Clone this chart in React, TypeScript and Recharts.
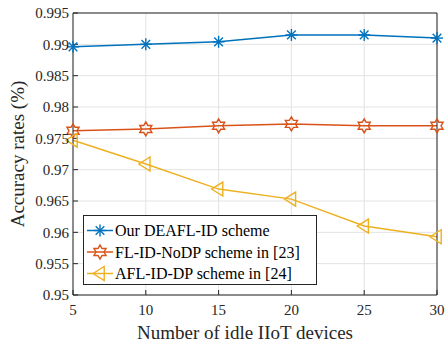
import React from 'react';
import { LineChart, Line, XAxis, YAxis, CartesianGrid } from 'recharts';

// ---- data ----
const devices = [5, 10, 15, 20, 25, 30];
const deaflId = [0.9896, 0.99, 0.9904, 0.9915, 0.9915, 0.991];
const flIdNoDp = [0.9762, 0.9765, 0.977, 0.9773, 0.977, 0.977];
const aflIdDp = [0.9747, 0.9709, 0.9669, 0.9653, 0.961, 0.9593];
const xTicks = [5, 10, 15, 20, 25, 30];
const yTicks = [0.95, 0.955, 0.96, 0.965, 0.97, 0.975, 0.98, 0.985, 0.99, 0.995];

const seriesNames = ['Our DEAFL-ID scheme', 'FL-ID-NoDP scheme in [23]', 'AFL-ID-DP scheme in [24]'];
const xTitle = 'Number of idle IIoT devices';
const yTitle = 'Accuracy rates (%)';

const BLUE = '#0072BD';
const ORANGE = '#D95319';
const YELLOW = '#EDB120';
const INK = '#262626';
const FONT = '"Liberation Serif", "Times New Roman", serif';

const data = devices.map((d, i) => ({
  x: d,
  deafl: deaflId[i],
  nodp: flIdNoDp[i],
  afl: aflIdDp[i],
}));

// ---- markers ----
const Asterisk = ({ cx, cy, color }: { cx: number; cy: number; color: string }) => {
  const r = 6;
  const d = r * 0.72;
  return (
    <g stroke={color} strokeWidth={1.4}>
      <line x1={cx - r} y1={cy} x2={cx + r} y2={cy} />
      <line x1={cx} y1={cy - r} x2={cx} y2={cy + r} />
      <line x1={cx - d} y1={cy - d} x2={cx + d} y2={cy + d} />
      <line x1={cx - d} y1={cy + d} x2={cx + d} y2={cy - d} />
    </g>
  );
};

const Hexagram = ({ cx, cy, color }: { cx: number; cy: number; color: string }) => {
  const ro = 7;
  const ri = ro / Math.sqrt(3);
  const pts: string[] = [];
  for (let k = 0; k < 12; k++) {
    const a = -Math.PI / 2 + (k * Math.PI) / 6;
    const r = k % 2 === 0 ? ro : ri;
    pts.push(`${cx + r * Math.cos(a)},${cy + r * Math.sin(a)}`);
  }
  return <polygon points={pts.join(' ')} fill="none" stroke={color} strokeWidth={1.4} />;
};

const TriLeft = ({ cx, cy, color }: { cx: number; cy: number; color: string }) => {
  const r = 7;
  const pts = `${cx - r},${cy} ${cx + r * 0.6},${cy - r} ${cx + r * 0.6},${cy + r}`;
  return <polygon points={pts} fill="none" stroke={color} strokeWidth={1.4} />;
};

const markerFor = (Shape: any, color: string) => (props: any) => {
  const { cx, cy, index } = props;
  return <Shape key={`m-${index}`} cx={cx} cy={cy} color={color} />;
};

const fmt = (v: number) => String(Number(v.toFixed(3)));

const tickStyle = { fontFamily: FONT, fontSize: 15, fill: INK };

// axis titles, placed relative to the axis viewBox
const XTitle = ({ viewBox }: any) => (
  <text
    x={viewBox.x + viewBox.width / 2 - 10}
    y={viewBox.y + 44}
    textAnchor="middle"
    fontFamily={FONT}
    fontSize={19}
    fill={INK}
  >
    {xTitle}
  </text>
);

const YTitle = ({ viewBox }: any) => {
  const x = viewBox.x + 24;
  const y = viewBox.y + viewBox.height / 2;
  return (
    <text x={x} y={y} transform={`rotate(-90, ${x}, ${y})`} textAnchor="middle" fontFamily={FONT} fontSize={19} fill={INK}>
      {yTitle}
    </text>
  );
};

export default function App() {
  const legendRows = [
    { name: seriesNames[0], color: BLUE, Shape: Asterisk },
    { name: seriesNames[1], color: ORANGE, Shape: Hexagram },
    { name: seriesNames[2], color: YELLOW, Shape: TriLeft },
  ];

  return (
    <div style={{ position: 'absolute', left: 0, top: 0, width: 445, height: 348, background: '#fff', fontFamily: FONT }}>
      <LineChart width={445} height={348} data={data} margin={{ top: 0, right: 0, bottom: 0, left: 0 }} style={{ fontFamily: FONT }}>
        <CartesianGrid stroke="#e3e3e3" strokeWidth={1} />
        <XAxis
          dataKey="x"
          type="number"
          domain={[5, 30]}
          ticks={xTicks}
          height={53}
          stroke={INK}
          tickSize={-5}
          tickMargin={14}
          tick={tickStyle}
          label={<XTitle />}
        />
        <XAxis
          xAxisId="top"
          dataKey="x"
          type="number"
          orientation="top"
          domain={[5, 30]}
          ticks={xTicks}
          height={13}
          stroke={INK}
          tickSize={-5}
          tick={false}
        />
        <YAxis
          type="number"
          domain={[0.95, 0.995]}
          ticks={yTicks}
          width={73}
          stroke={INK}
          tickSize={-5}
          tickMargin={9}
          tickFormatter={fmt}
          tick={tickStyle}
          label={<YTitle />}
        />
        <YAxis
          yAxisId="right"
          type="number"
          orientation="right"
          domain={[0.95, 0.995]}
          ticks={yTicks}
          width={8}
          stroke={INK}
          tickSize={-5}
          tick={false}
        />
        <Line dataKey="deafl" stroke={BLUE} strokeWidth={1.5} dot={markerFor(Asterisk, BLUE)} isAnimationActive={false} />
        <Line dataKey="nodp" stroke={ORANGE} strokeWidth={1.5} dot={markerFor(Hexagram, ORANGE)} isAnimationActive={false} />
        <Line dataKey="afl" stroke={YELLOW} strokeWidth={1.5} dot={markerFor(TriLeft, YELLOW)} isAnimationActive={false} />
      </LineChart>
      <div
        style={{
          position: 'absolute',
          left: 83,
          top: 215,
          width: 234,
          height: 70,
          border: `1px solid ${INK}`,
          background: '#fff',
          boxSizing: 'border-box',
        }}
      >
        <svg width={232} height={68} style={{ position: 'absolute', left: 0, top: 0 }}>
          {legendRows.map((row, i) => {
            const y = 14.5 + i * 21.5;
            return (
              <g key={row.name}>
                <line x1={3} y1={y} x2={29} y2={y} stroke={row.color} strokeWidth={1.5} />
                <row.Shape cx={16} cy={y} color={row.color} />
                <text x={31} y={y + 5.5} fontFamily={FONT} fontSize={16} fill="#000">
                  {row.name}
                </text>
              </g>
            );
          })}
        </svg>
      </div>
    </div>
  );
}
